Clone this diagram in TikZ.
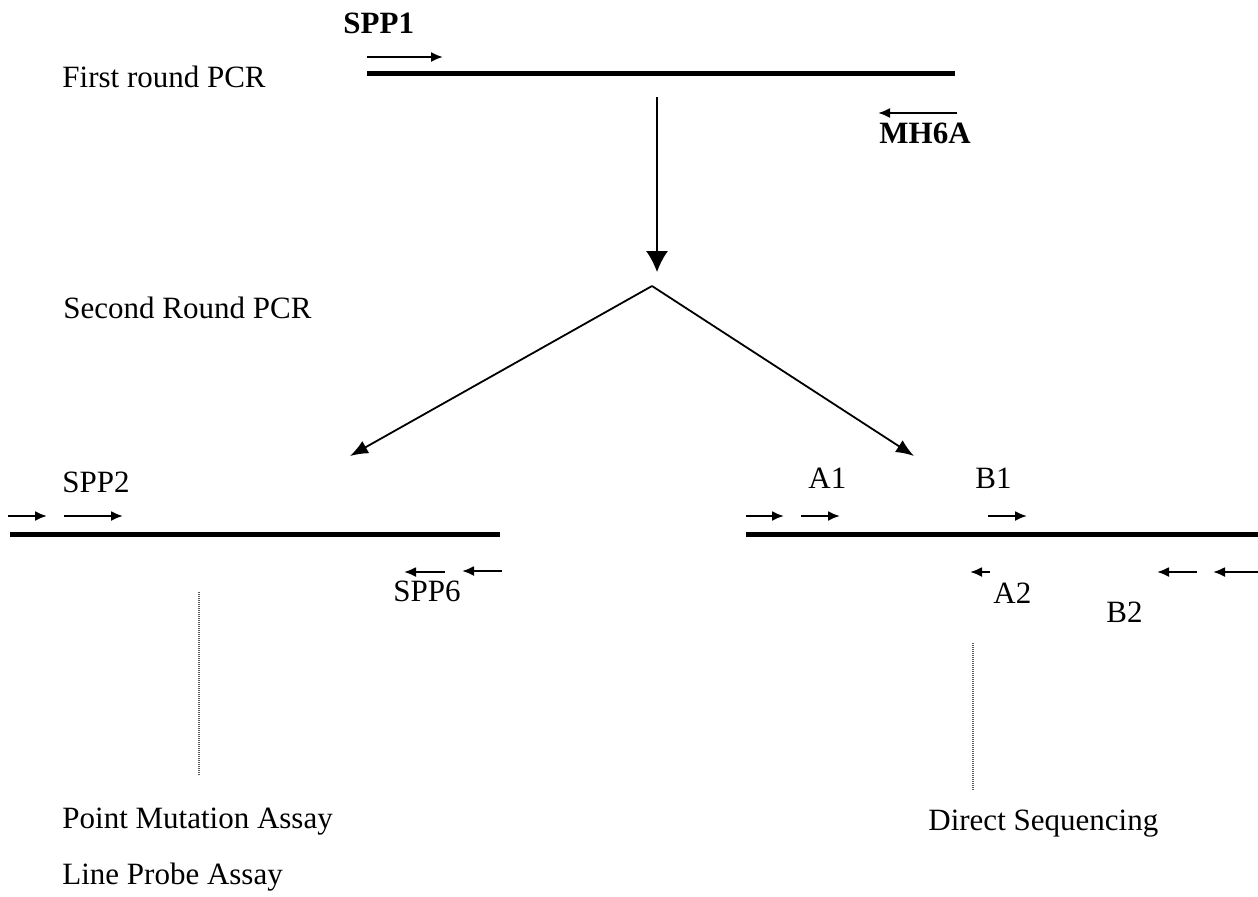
\documentclass[tikz,border=0pt]{standalone}
\usepackage{fontspec}
\setmainfont{Liberation Serif}
\usetikzlibrary{arrows.meta}
\begin{document}
\begin{tikzpicture}[x=0.5pt,y=-0.5pt,
  lbl/.style={anchor=base west,inner sep=0pt,font=\fontsize{15.5}{18}\selectfont},
  blbl/.style={lbl,font=\fontsize{15.5}{18}\selectfont\bfseries},
  strand/.style={line width=2.5pt},
  primer/.style={line width=1pt,-{Latex[length=6pt,width=5pt]}},
  flow/.style={line width=0.9pt,-{Latex[length=9pt,width=7pt]}},
  guide/.style={line width=0.6pt,black!65,dash pattern=on 0.6pt off 0.4pt}]
\useasboundingbox (0,0) rectangle (1258,896);

% stage captions
\node[lbl] (first) at (62,87) {First round PCR};
\node[lbl] (second) at (63,318) {Second Round PCR};

% first round amplicon with outer primers
\draw[strand] (367,73) -- (955,73);
\node[blbl] (spp1) at (343,33) {SPP1};
\draw[primer] (367,57) -- (443,57);
\draw[primer] (957,113) -- (878,113);
\node[blbl] (mh6a) at (879,143) {MH6A};

% flow into the second round
\coordinate (top) at (657,97);
\coordinate (mid) at (657,272);
\draw[line width=0.75pt,-{Latex[length=10.5pt,width=11pt]}] (top) -- (mid);
\coordinate (apex) at (652,286);
\coordinate (lend) at (350,456);
\coordinate (rend) at (914,456);
\draw[flow] (apex) -- (lend);
\draw[flow] (apex) -- (rend);

% left amplicon (SPP2 / SPP6)
\draw[strand] (10,534) -- (500,534);
\node[lbl] (spp2) at (62,492) {SPP2};
\draw[primer] (8,516) -- (47,516);
\draw[primer] (64,516) -- (123,516);
\draw[primer] (445,572) -- (404,572);
\draw[primer] (502,571) -- (462,571);
\node[lbl] (spp6) at (393,601) {SPP6};

% right amplicon (A1/A2, B1/B2)
\draw[strand] (746,534) -- (1258,534);
\node[lbl] (a1) at (808,488) {A1};
\node[lbl] (b1) at (975,488) {B1};
\draw[primer] (746,516) -- (784,516);
\draw[primer] (801,516) -- (840,516);
\draw[primer] (988,516) -- (1027,516);
\draw[primer] (990,572) -- (970,572);
\node[lbl] (a2) at (993,603) {A2};
\draw[primer] (1197,572) -- (1157,572);
\draw[primer] (1258,572) -- (1213,572);
\node[lbl] (b2) at (1106,622) {B2};

% downstream assays
\draw[guide] (199,592) -- (199,775);
\draw[guide] (973,643) -- (973,790);
\node[lbl] (pma) at (62,828) {Point Mutation Assay};
\node[lbl] (lpa) at (62,884) {Line Probe Assay};
\node[lbl] (ds) at (928,830) {Direct Sequencing};
\end{tikzpicture}
\end{document}
